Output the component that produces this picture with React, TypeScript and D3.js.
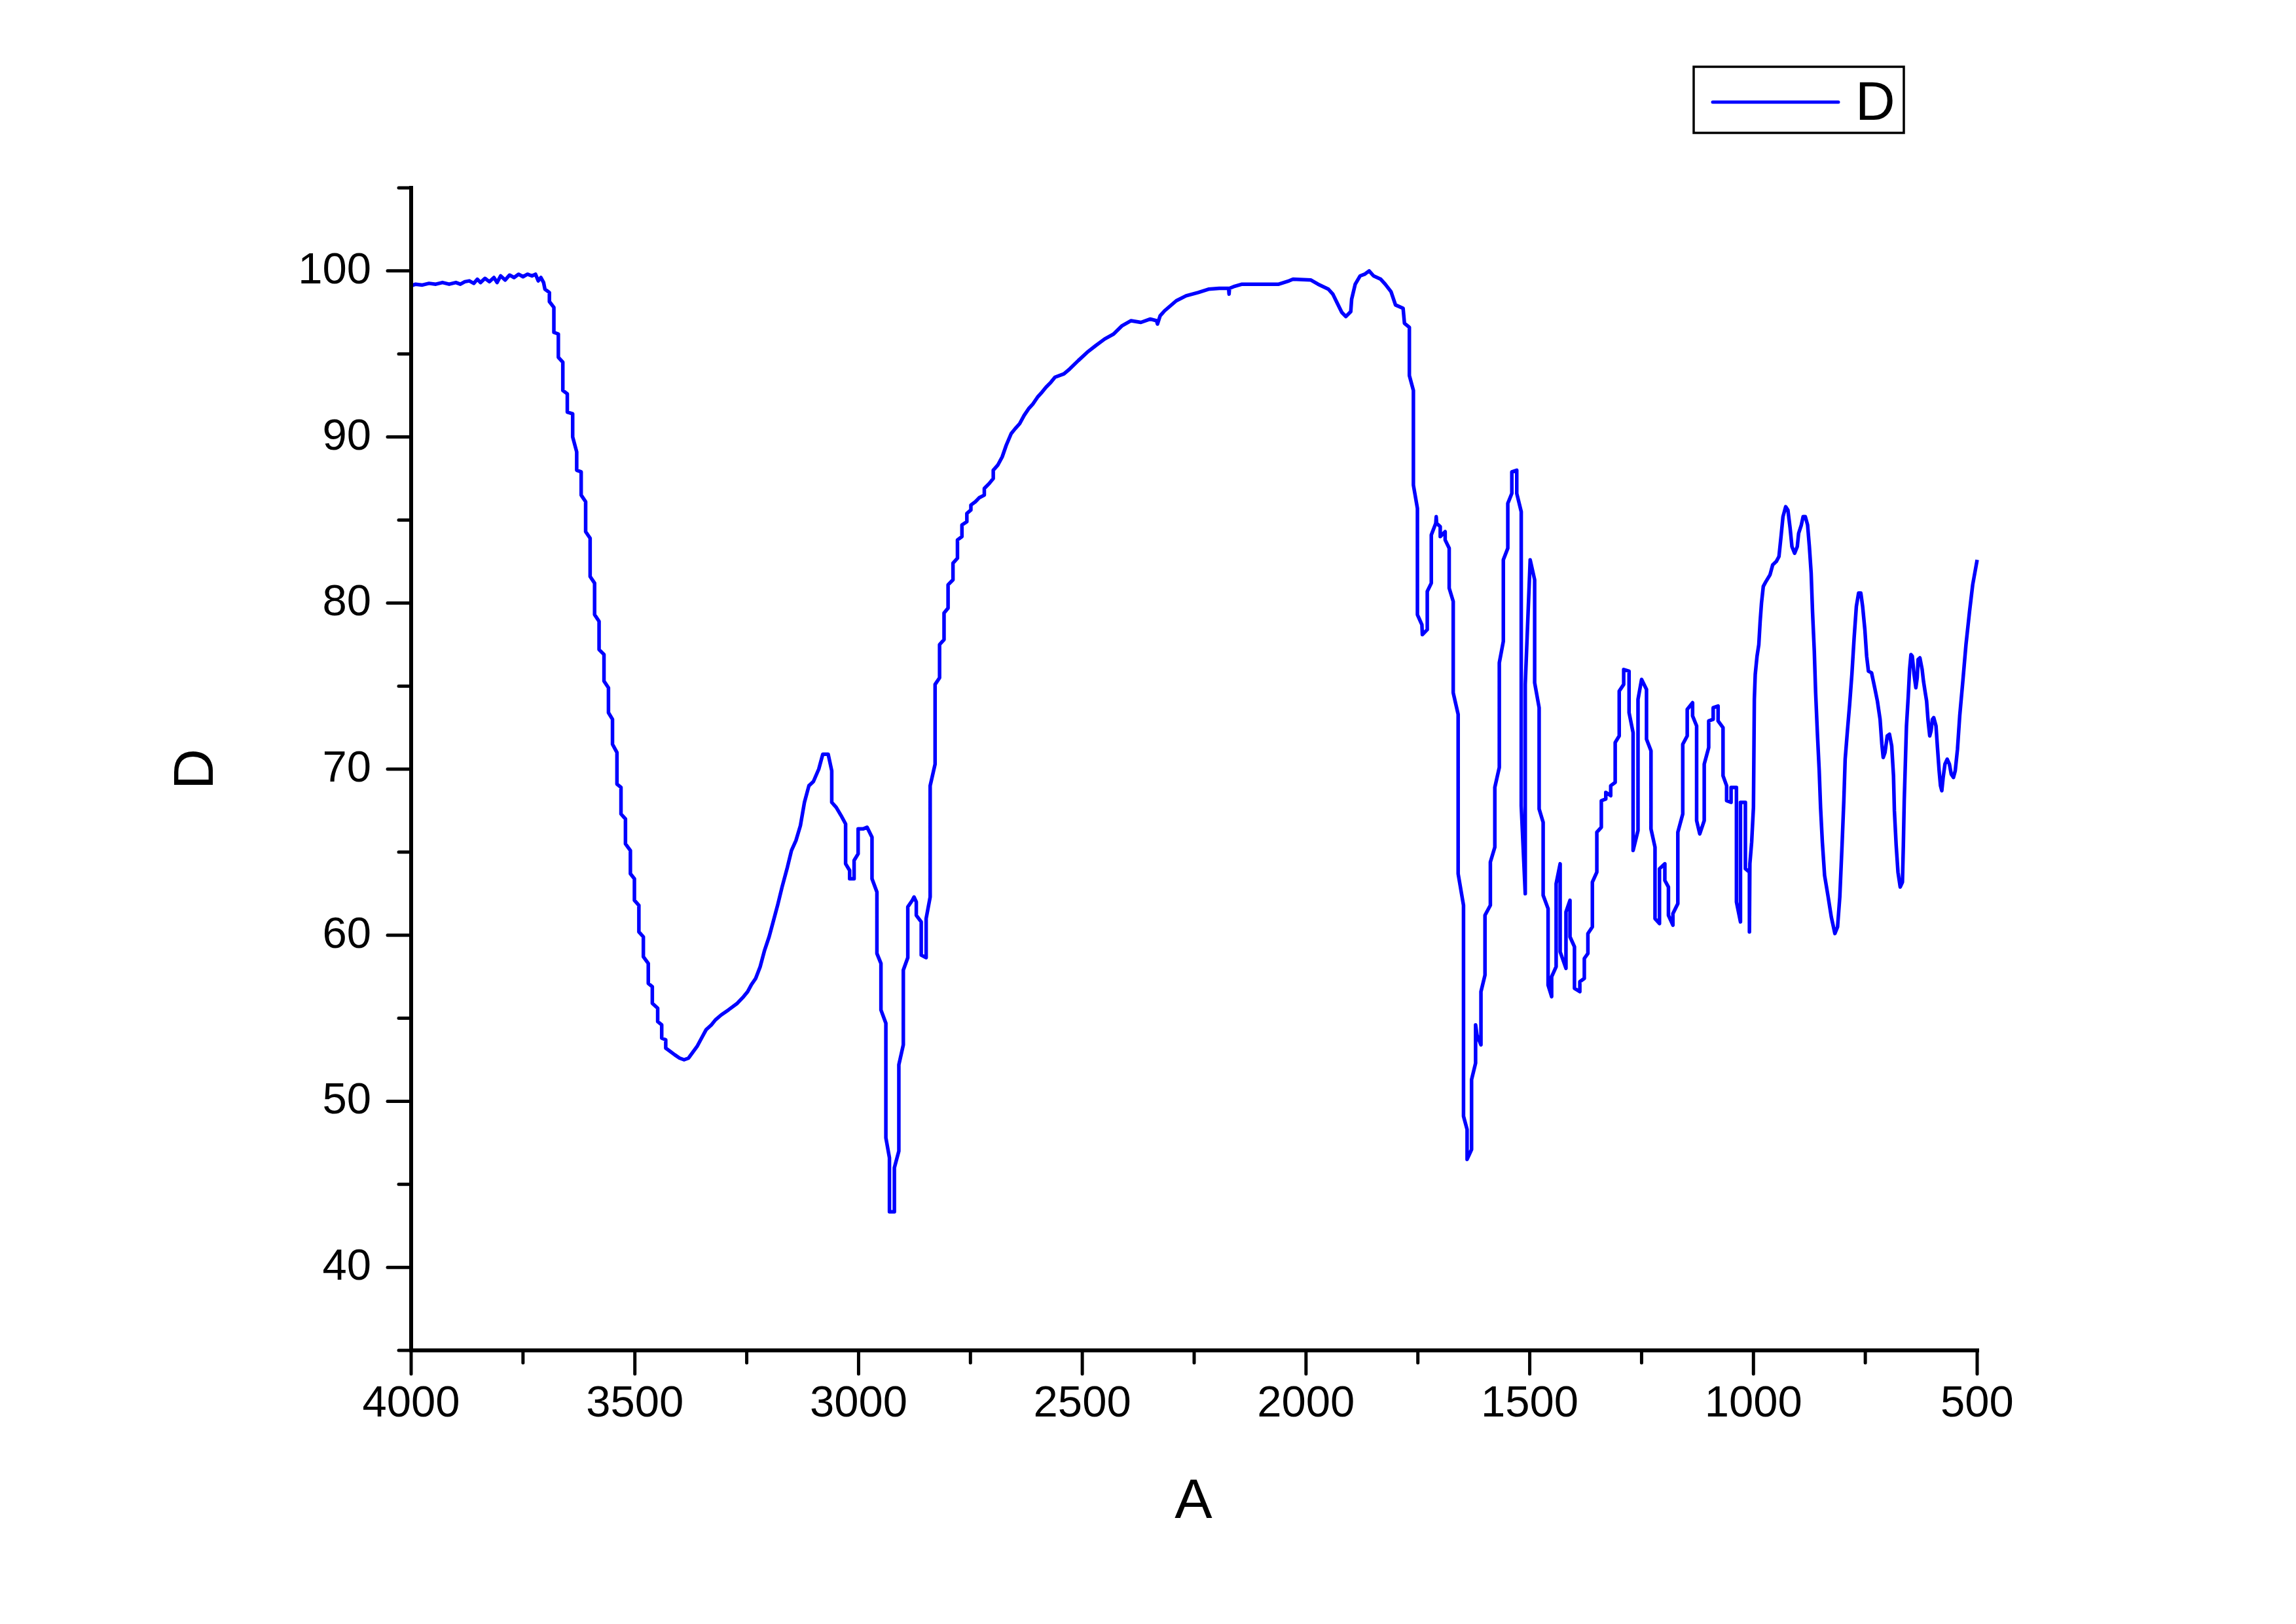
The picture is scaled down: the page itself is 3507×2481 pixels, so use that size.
import React from 'react'
import * as d3 from 'd3'

// [wavenumber (A), value (D)]
const SPECTRUM: [number, number][] = [
  [4000, 99.1], [3990, 99.2], [3975, 99.15], [3960, 99.25], [3945, 99.2], [3930, 99.3], [3915, 99.2],
  [3900, 99.3], [3890, 99.2], [3880, 99.35], [3870, 99.4], [3860, 99.25], [3852, 99.5], [3845, 99.3],
  [3835, 99.55], [3825, 99.35], [3815, 99.6], [3808, 99.3], [3800, 99.7], [3790, 99.45], [3780, 99.75],
  [3770, 99.6], [3760, 99.8], [3750, 99.65], [3740, 99.8], [3730, 99.7], [3722, 99.8], [3716, 99.4],
  [3710, 99.6], [3704, 99.3],
  [3701, 98.9], [3691, 98.7], [3691, 98.15], [3681, 97.8], [3681, 96.3], [3671, 96.2], [3671, 94.8],
  [3661, 94.5], [3661, 92.8], [3651, 92.6], [3651, 91.5], [3639, 91.4], [3639, 90.0], [3630, 89.1],
  [3630, 88.0], [3620, 87.9], [3620, 86.5], [3610, 86.1], [3610, 84.3], [3600, 83.9], [3600, 81.6],
  [3590, 81.2], [3590, 79.3], [3580, 78.9], [3580, 77.2], [3569, 76.9], [3569, 75.3], [3559, 74.9],
  [3559, 73.4], [3550, 73.0], [3550, 71.5], [3540, 71.0], [3540, 69.1], [3531, 68.9], [3531, 67.3],
  [3521, 67.0], [3521, 65.5], [3510, 65.1], [3510, 63.7], [3501, 63.4], [3501, 62.1], [3491, 61.8],
  [3491, 60.2], [3481, 59.9], [3481, 58.7], [3470, 58.3], [3470, 57.1], [3461, 56.9], [3461, 55.9],
  [3449, 55.6], [3449, 54.8], [3440, 54.6], [3440, 53.8], [3431, 53.7], [3431, 53.2], [3421, 53.0],
  [3411, 52.8], [3400, 52.6], [3390, 52.5], [3380, 52.6], [3372, 52.9], [3361, 53.3], [3351, 53.8],
  [3341, 54.3], [3329, 54.6], [3320, 54.9], [3307, 55.2], [3291, 55.5], [3271, 55.9], [3257, 56.3],
  [3248, 56.6], [3240, 57.0], [3230, 57.4], [3220, 58.1], [3210, 59.1], [3200, 59.9], [3191, 60.8],
  [3181, 61.8], [3171, 62.9], [3159, 64.1], [3150, 65.1], [3140, 65.7], [3130, 66.6], [3121, 68.0],
  [3111, 69.0], [3101, 69.25], [3089, 70.0], [3080, 70.9], [3068, 70.9], [3060, 69.9], [3060, 68.0],
  [3050, 67.7], [3039, 67.2], [3029, 66.7], [3029, 64.3], [3020, 63.9], [3020, 63.4], [3010, 63.4],
  [3010, 64.5], [3001, 64.9], [3001, 66.4], [2990, 66.4], [2981, 66.5], [2970, 65.9], [2970, 63.4],
  [2959, 62.6], [2959, 58.9], [2950, 58.3], [2950, 55.5], [2939, 54.7], [2939, 47.8], [2931, 46.6],
  [2931, 43.35], [2920, 43.35], [2920, 46.0], [2910, 47.0], [2910, 52.2], [2900, 53.4], [2900, 57.9],
  [2890, 58.65], [2890, 61.7], [2880, 62.1], [2876, 62.3], [2871, 62.0], [2871, 61.2], [2860, 60.8],
  [2860, 58.8], [2849, 58.65], [2849, 61.0], [2840, 62.3], [2840, 69.0], [2829, 70.3], [2829, 75.1],
  [2819, 75.5], [2819, 77.5], [2809, 77.8], [2809, 79.4], [2800, 79.7], [2800, 81.1], [2789, 81.4],
  [2789, 82.4], [2779, 82.7], [2779, 83.8], [2769, 84.0], [2769, 84.7], [2758, 84.9], [2758, 85.4],
  [2749, 85.6], [2749, 85.9], [2739, 86.1], [2730, 86.35], [2719, 86.5], [2719, 86.9], [2708, 87.2],
  [2699, 87.5], [2699, 88.0], [2689, 88.3], [2679, 88.8], [2670, 89.5], [2659, 90.2], [2650, 90.5],
  [2640, 90.8], [2630, 91.3], [2620, 91.7], [2610, 92.0], [2600, 92.4], [2590, 92.7], [2581, 93.0],
  [2570, 93.3], [2561, 93.6], [2541, 93.8], [2528, 94.1], [2509, 94.6], [2489, 95.1], [2470, 95.5],
  [2450, 95.9], [2430, 96.2], [2411, 96.7], [2391, 97.0], [2369, 96.9], [2348, 97.1], [2334, 97.0],
  [2332, 96.8], [2326, 97.3], [2316, 97.6], [2290, 98.2], [2268, 98.5], [2241, 98.7], [2218, 98.9],
  [2194, 98.95], [2173, 98.95], [2172, 98.6], [2171, 98.95], [2162, 99.05], [2143, 99.2], [2061, 99.2],
  [2038, 99.4], [2029, 99.5], [1989, 99.45], [1973, 99.2], [1950, 98.9], [1940, 98.6], [1931, 98.1],
  [1920, 97.5], [1911, 97.25], [1900, 97.55], [1898, 98.3], [1890, 99.2], [1879, 99.7], [1869, 99.8],
  [1859, 100.0], [1849, 99.7], [1833, 99.5], [1823, 99.2], [1810, 98.75], [1800, 97.95], [1783, 97.75],
  [1780, 96.85], [1769, 96.6], [1769, 93.7], [1760, 92.8], [1760, 87.1], [1751, 85.7], [1751, 79.3],
  [1741, 78.7], [1740, 78.1], [1729, 78.4], [1729, 80.7], [1720, 81.2], [1720, 84.1], [1710, 84.8],
  [1709, 85.2], [1708, 84.8], [1700, 84.6], [1700, 84.0], [1689, 84.3], [1689, 83.8], [1680, 83.3],
  [1680, 80.9], [1671, 80.1], [1671, 74.6], [1660, 73.3], [1660, 63.7], [1648, 61.8], [1648, 49.1],
  [1640, 48.3], [1640, 46.5], [1630, 47.1], [1630, 51.3], [1621, 52.3], [1621, 54.6], [1618, 54.0],
  [1609, 53.4], [1609, 56.6], [1600, 57.6], [1600, 61.2], [1588, 61.8], [1588, 64.4], [1578, 65.3],
  [1578, 68.9], [1568, 70.1], [1568, 76.4], [1559, 77.7], [1559, 82.6], [1549, 83.3], [1549, 86.0],
  [1540, 86.6], [1540, 87.9], [1529, 88.0], [1529, 86.6], [1519, 85.5], [1519, 67.8], [1510, 62.5],
  [1510, 75.1], [1499, 82.6], [1489, 81.4], [1489, 75.2], [1479, 73.7], [1479, 67.6], [1470, 66.8],
  [1470, 62.4], [1459, 61.6], [1459, 57.0], [1451, 56.3], [1451, 57.5], [1441, 58.1], [1441, 63.1],
  [1432, 64.3], [1432, 59.0], [1419, 58.0], [1419, 61.4], [1410, 62.1], [1410, 59.9], [1400, 59.3],
  [1400, 56.8], [1388, 56.6], [1388, 57.2], [1378, 57.4], [1378, 58.6], [1370, 58.9], [1370, 60.1],
  [1360, 60.5], [1360, 63.2], [1350, 63.8], [1350, 66.2], [1340, 66.5], [1340, 68.1], [1330, 68.2],
  [1330, 68.6], [1319, 68.4], [1319, 69.0], [1309, 69.2], [1309, 71.6], [1300, 72.0], [1300, 74.7],
  [1290, 75.1], [1290, 76.0], [1278, 75.9], [1278, 73.4], [1269, 72.2], [1269, 65.1], [1258, 66.3],
  [1258, 74.2], [1250, 75.4], [1239, 74.8], [1239, 71.8], [1229, 71.1], [1229, 66.4], [1220, 65.3],
  [1220, 61.0], [1210, 60.7], [1210, 64.0], [1198, 64.3], [1198, 63.3], [1190, 62.9], [1190, 61.2],
  [1180, 60.6], [1180, 61.3], [1169, 61.9], [1169, 66.2], [1158, 67.3], [1158, 71.5], [1148, 72.0],
  [1148, 73.6], [1136, 74.0], [1136, 73.2], [1127, 72.6], [1127, 66.9], [1120, 66.1], [1110, 66.9],
  [1110, 70.3], [1100, 71.3], [1100, 72.9], [1090, 73.0], [1090, 73.7], [1079, 73.8], [1079, 72.9],
  [1068, 72.5], [1068, 69.6], [1060, 69.0], [1060, 68.1], [1050, 68.0], [1050, 68.9], [1038, 68.9],
  [1038, 62.0], [1029, 60.8], [1029, 68.0], [1018, 68.0], [1018, 64.0], [1009, 63.8], [1009, 60.2],
  [1008, 64.3], [1004, 65.6], [1000, 67.7], [998, 74.2], [996, 75.7], [992, 76.8], [988, 77.5],
  [985, 78.9], [982, 80.0], [978, 81.0], [972, 81.3], [963, 81.7], [957, 82.3], [949, 82.5],
  [943, 82.8], [938, 84.1], [934, 85.2], [928, 85.8], [923, 85.6], [918, 84.5], [914, 83.4],
  [908, 83.0], [902, 83.4], [899, 84.2], [893, 84.7], [889, 85.2], [884, 85.2], [879, 84.7],
  [875, 83.4], [871, 81.8], [868, 79.5], [864, 77.1], [861, 74.6], [857, 72.1], [853, 69.9],
  [850, 67.7], [846, 65.6], [841, 63.6], [833, 62.3], [826, 61.1], [818, 60.1], [812, 60.5],
  [807, 62.3], [802, 65.4], [798, 68.1], [795, 70.6], [790, 72.3], [785, 73.9], [780, 75.7],
  [775, 77.9], [770, 79.8], [765, 80.6], [760, 80.6], [756, 79.8], [751, 78.4], [747, 76.8],
  [743, 75.9], [736, 75.8], [729, 74.9], [723, 74.1], [717, 73.0], [713, 71.5], [710, 70.7],
  [706, 71.0], [701, 72.0], [696, 72.1], [691, 71.4], [687, 69.6], [685, 67.5], [681, 65.4],
  [677, 63.8], [672, 62.9], [667, 63.2], [665, 65.4], [663, 68.1], [660, 70.8], [658, 72.6],
  [654, 74.4], [651, 76.0], [648, 76.9], [645, 76.8], [641, 75.7], [637, 74.9], [634, 75.5],
  [632, 76.6], [628, 76.7], [623, 76.0], [620, 75.3], [616, 74.6], [613, 74.1], [610, 73.0],
  [606, 72.0], [603, 72.3], [600, 73.0], [597, 73.1], [592, 72.6], [589, 71.4], [585, 69.9],
  [582, 69.0], [579, 68.7], [576, 69.5], [572, 70.3], [567, 70.6], [562, 70.3], [558, 69.7],
  [553, 69.5], [549, 69.9], [544, 71.2], [539, 73.2], [532, 75.3], [525, 77.5], [517, 79.5],
  [510, 81.1], [500, 82.6]
]

const X_MAJOR = [4000, 3500, 3000, 2500, 2000, 1500, 1000, 500]
const X_MINOR = [3750, 3250, 2750, 2250, 1750, 1250, 750]
const Y_MAJOR = [40, 50, 60, 70, 80, 90, 100]
const Y_MINOR = [35, 45, 55, 65, 75, 85, 95, 105]

const X_TITLE = 'A'
const Y_TITLE = 'D'
const SERIES_NAME = 'D'

const W = 3507
const H = 2481
const plot = { left: 628, right: 3020, top: 287, bottom: 2063 }
const FONT = '"Liberation Sans", Arial, sans-serif'
const BLUE = '#0000ff'

export default function App() {
  const x = d3.scaleLinear().domain([4000, 500]).range([plot.left, plot.right])
  const y = d3.scaleLinear().domain([35, 105]).range([plot.bottom, plot.top])

  const line = d3.line<[number, number]>()
    .x(d => x(d[0]))
    .y(d => y(d[1]))

  return (
    <svg
      width={W}
      height={H}
      style={{ position: 'absolute', left: 0, top: 0, background: '#fff' }}
    >
      <rect width={W} height={H} fill="#fff" />

      <path d={line(SPECTRUM) || ''} fill="none" stroke={BLUE} strokeWidth={5.5} strokeLinejoin="round" />

      {/* axes */}
      <g stroke="#000" strokeWidth={6} strokeLinecap="square">
        <line x1={plot.left} y1={plot.top} x2={plot.left} y2={plot.bottom} />
        <line x1={plot.left} y1={plot.bottom} x2={plot.right} y2={plot.bottom} />
      </g>
      <g stroke="#000" strokeWidth={5} strokeLinecap="round">
        {Y_MAJOR.map(v => (
          <line key={'ym' + v} x1={plot.left - 36} x2={plot.left} y1={y(v)} y2={y(v)} />
        ))}
        {Y_MINOR.map(v => (
          <line key={'yn' + v} x1={plot.left - 19} x2={plot.left} y1={y(v)} y2={y(v)} />
        ))}
        {X_MAJOR.map(v => (
          <line key={'xm' + v} x1={x(v)} x2={x(v)} y1={plot.bottom} y2={plot.bottom + 36} />
        ))}
        {X_MINOR.map(v => (
          <line key={'xn' + v} x1={x(v)} x2={x(v)} y1={plot.bottom} y2={plot.bottom + 19} />
        ))}
      </g>

      <g fontFamily={FONT} fontSize={67} fill="#000">
        {Y_MAJOR.map(v => (
          <text key={'yl' + v} x={567} y={y(v) + 19} textAnchor="end">{v}</text>
        ))}
        {X_MAJOR.map(v => (
          <text key={'xl' + v} x={x(v)} y={2164} textAnchor="middle">{v}</text>
        ))}
      </g>

      <text x={1823} y={2319} fontFamily={FONT} fontSize={86} textAnchor="middle">{X_TITLE}</text>
      <text
        transform={`translate(325, ${y(70)}) rotate(-90)`}
        fontFamily={FONT}
        fontSize={86}
        textAnchor="middle"
      >
        {Y_TITLE}
      </text>

      {/* legend */}
      <rect x={2587} y={102} width={321} height={101} fill="#fff" stroke="#000" strokeWidth={3.5} />
      <line x1={2616} x2={2808} y1={156} y2={156} stroke={BLUE} strokeWidth={5} strokeLinecap="round" />
      <text x={2834} y={183} fontFamily={FONT} fontSize={84}>{SERIES_NAME}</text>
    </svg>
  )
}
